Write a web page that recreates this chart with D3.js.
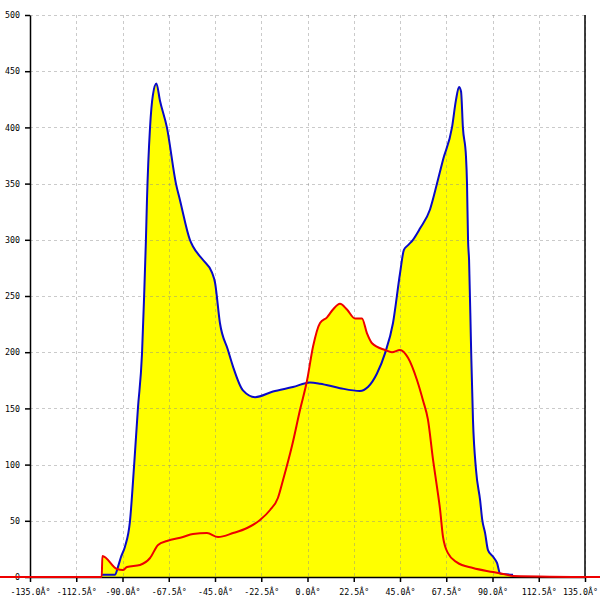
<!DOCTYPE html>
<html>
<head>
<meta charset="utf-8">
<script src="https://cdn.jsdelivr.net/npm/d3@7"></script>
<style>
  html, body { margin: 0; padding: 0; background: #fff; }
  svg { display: block; }
  text { font-family: "DejaVu Sans Mono", monospace; font-size: 8.3px; fill: #000; }
</style>
</head>
<body>
<svg id="chart" width="600" height="600"></svg>
<script>
// ---- data ----
const xTicks = [-135, -112.5, -90, -67.5, -45, -22.5, 0, 22.5, 45, 67.5, 90, 112.5, 135];
const yTicks = [0, 50, 100, 150, 200, 250, 300, 350, 400, 450, 500];

const blueAngles = [-100, -93.6, -92.2, -90.7, -88.8, -86.4, -84.4, -82.5, -80.5, -79.5, -78.6, -78.1, -76.6, -75.2, -73.5,
  -71.8, -68.4, -64.0, -62.0, -57.2, -55.7, -50.8, -46.5, -45.0, -42.6, -38.7, -36.2, -31.4, -25.5, -16.8, -7.1,
  1.2, 6.1, 15.8, 25.5, 29.4, 33.8, 37.7, 41.6, 45.0, 46.9, 48.8, 51.3, 54.7, 59.6, 63.0, 65.9, 70.3, 72.2, 73.7,
  74.7, 75.6, 77.1, 77.6, 78.1, 78.6, 79.6, 80.5, 82.0, 84.0, 85.0, 86.4, 87.8, 90.3, 92.2, 93.7, 100];
const blueValues = [2, 2, 9, 18, 27, 49, 98, 150, 199, 249, 300, 335, 400, 429, 439,
  424, 400, 350, 335, 300, 294, 282, 271, 262, 226, 202, 187, 166, 160, 165, 169,
  173, 172, 168, 165.5, 169, 181, 199, 226, 270, 291, 295, 300, 310, 327, 350, 371, 400, 424, 436,
  432, 400, 374, 350, 300, 282, 202, 140, 95, 68, 51, 39, 24, 18, 12.5, 3, 2];

const redAngles = [-150, -100.1, -99.8, -92.7, -89.8, -87.8, -81.5, -76.6, -72.7, -68.4, -60.6, -55.7, -48.9, -43.5,
  -36.2, -29.4, -23.1, -18.2, -14.4, -11.9, -7.5, -3.6, -0.2, 2.7, 6.1, 9.5, 12.4, 15.8, 19.2, 23.1, 26.5, 28.9,
  31.4, 37.7, 41.1, 45.0, 48.9, 53.3, 56.2, 58.6, 61.1, 63.0, 64.5, 65.9, 68.4, 72.7, 80.5, 90.3, 97.1, 100, 145];
const redValues = [0, 0, 18.7, 7.1, 6.2, 8.9, 10.7, 16.9, 28.5, 32, 35.6, 38.3, 39.1, 35.6,
  39.1, 43.6, 50.7, 59.6, 70.3, 86.3, 117, 149, 175, 205, 226, 231, 238, 243, 238, 230, 230, 217,
  208, 202, 200, 202, 195, 175, 157, 140, 104, 80, 60, 36, 21, 13, 8, 4.4, 2, 1, 0];

// ---- layout ----
const svg = d3.select("#chart");
const mLeft = 30, mRight = 585, mTop = 15, mBottom = 577;

const x = d3.scaleLinear().domain([-135, 135]).range([mLeft, mRight]);
const y = d3.scaleLinear().domain([0, 500]).range([mBottom, mTop]);

const blue = blueAngles.map((a, i) => [a, blueValues[i]]);
const red = redAngles.map((a, i) => [a, redValues[i]]);

const curve = d3.curveMonotoneX;
const area = d3.area().curve(curve).x(d => x(d[0])).y0(y(0)).y1(d => y(d[1]));
const line = d3.line().curve(curve).x(d => x(d[0])).y(d => y(d[1]));

// fills
svg.append("path").attr("d", area(blue)).attr("fill", "#ffff00");
svg.append("path").attr("d", area(red)).attr("fill", "#ffff00");

// grid
const grid = svg.append("g").attr("stroke", "#8a8a8a").attr("stroke-opacity", 0.45)
  .attr("stroke-dasharray", "3,3").attr("stroke-width", 1);
grid.selectAll("line.h").data(yTicks).join("line")
  .attr("x1", mLeft).attr("x2", mRight)
  .attr("y1", d => Math.round(y(d)) + 0.5).attr("y2", d => Math.round(y(d)) + 0.5);
grid.selectAll("line.v").data(xTicks).join("line")
  .attr("y1", mTop).attr("y2", mBottom)
  .attr("x1", d => Math.round(x(d)) + 0.5).attr("x2", d => Math.round(x(d)) + 0.5);

// axes
const fmtX = d => d.toFixed(1) + "Â°";
const xAxis = d3.axisBottom(x).tickValues(xTicks).tickFormat(fmtX).tickSize(5).tickSizeOuter(0);
const yAxis = d3.axisLeft(y).tickValues(yTicks).tickFormat(d3.format("d")).tickSize(5).tickSizeOuter(0);

const gx = svg.append("g").attr("transform", `translate(0,${mBottom})`).call(xAxis);
const gy = svg.append("g").attr("transform", `translate(${mLeft},0)`).call(yAxis);
[gx, gy].forEach(g => {
  g.select(".domain").attr("stroke", "#000").attr("stroke-width", 1.5);
  g.selectAll(".tick line").attr("stroke", "#000").attr("stroke-width", 1.5);
  g.selectAll("text").attr("font-family", "DejaVu Sans Mono").attr("font-size", 8.3).attr("fill", "#000");
});
gx.selectAll("text").attr("dy", "1.2em");
// keep the last label inside the picture
gx.selectAll(".tick text").filter(d => d === 135).attr("x", -5);
gy.selectAll("text").attr("x", -10);

// right border
svg.append("line").attr("x1", mRight).attr("x2", mRight).attr("y1", mTop).attr("y2", mBottom)
  .attr("stroke", "#000").attr("stroke-width", 1.5);

// lines
svg.append("path").attr("d", line(blue)).attr("fill", "none")
  .attr("stroke", "#0a0ac8").attr("stroke-width", 2).attr("stroke-linejoin", "round");
svg.append("path").attr("d", line(red)).attr("fill", "none")
  .attr("stroke", "#ee0000").attr("stroke-width", 2).attr("stroke-linejoin", "round");
</script>
</body>
</html>
